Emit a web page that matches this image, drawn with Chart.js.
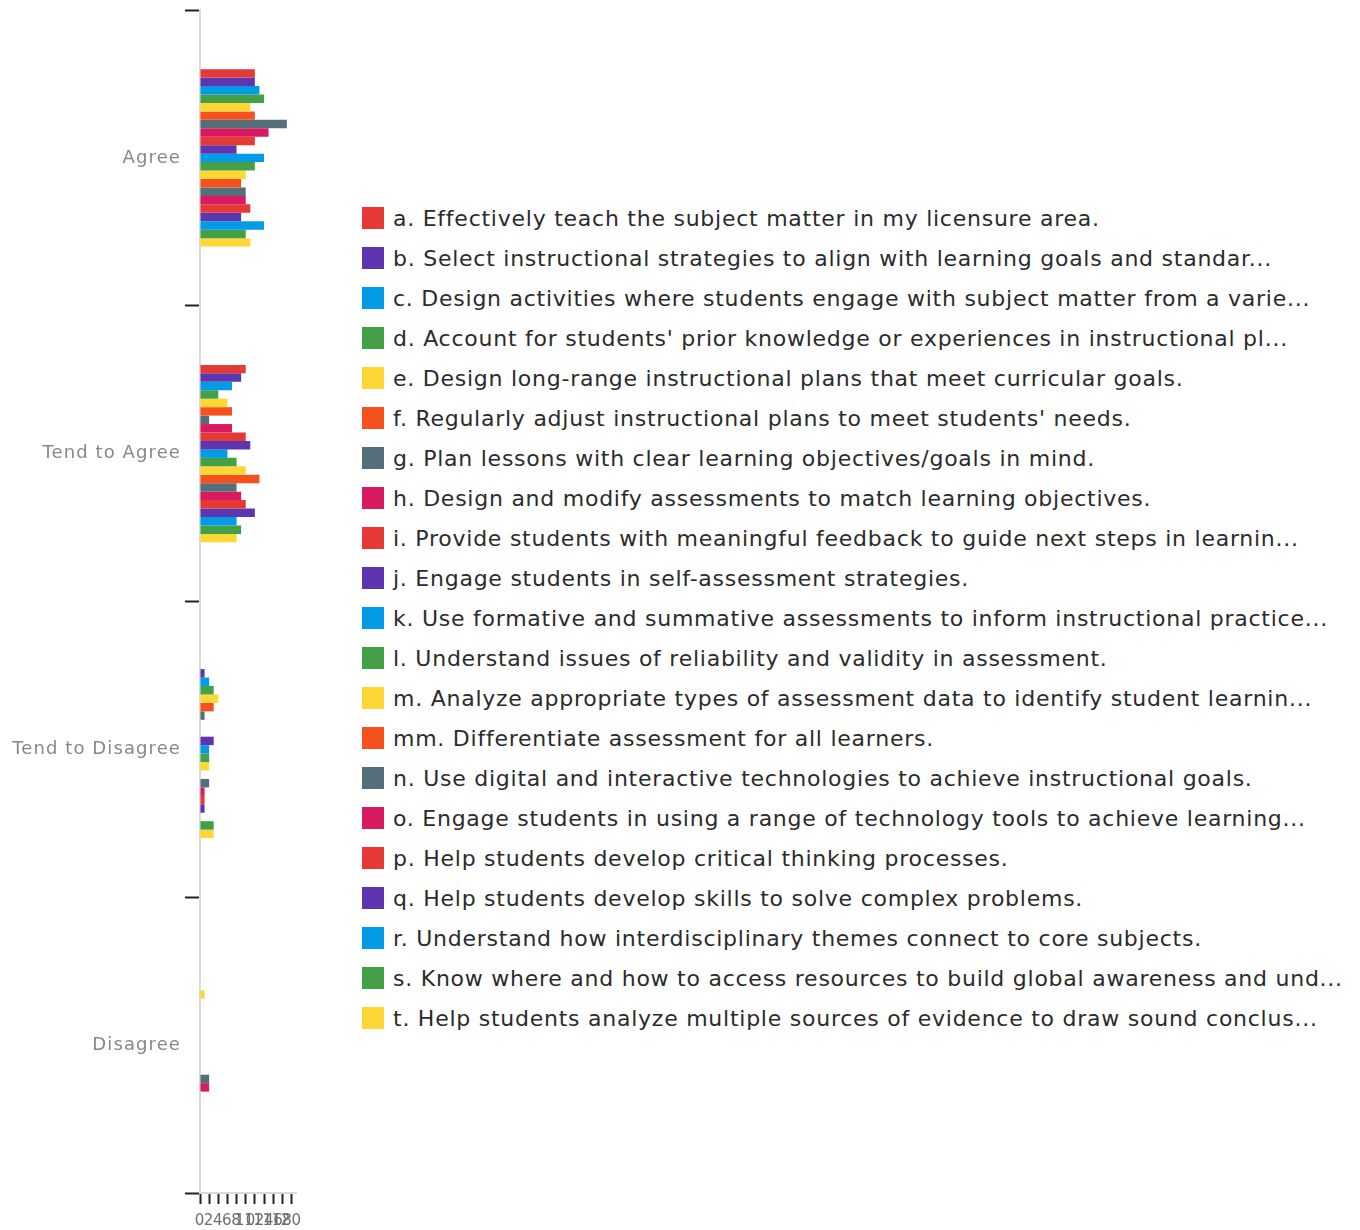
<!DOCTYPE html>
<html>
<head>
<meta charset="utf-8">
<script src="https://cdn.jsdelivr.net/npm/chart.js@4/dist/chart.umd.min.js"></script>
<style>
	body{margin:0;background:#fff;}
	#wrap{position:absolute;left:0;top:0;width:340px;height:1230px;}
	#legend{position:absolute;left:362px;top:199px;margin:0;padding:0;list-style:none;
		font-family:"DejaVu Sans",sans-serif;font-size:22px;letter-spacing:0.75px;color:#2b2b2b;}
	#legend li{height:40px;line-height:40px;white-space:nowrap;}
	#legend span{display:inline-block;width:22px;height:22px;vertical-align:middle;margin-right:9px;position:relative;top:-2px;}
</style>
</head>
<body>
<div id="wrap"><canvas id="myChart"></canvas></div>
<ul id="legend"></ul>
<script>
// answer categories (y axis)
let categories = ["Agree", "Tend to Agree", "Tend to Disagree", "Disagree"];

// survey items, as shown in the legend
let items = [
	"a. Effectively teach the subject matter in my licensure area.",
	"b. Select instructional strategies to align with learning goals and standar...",
	"c. Design activities where students engage with subject matter from a varie...",
	"d. Account for students' prior knowledge or experiences in instructional pl...",
	"e. Design long-range instructional plans that meet curricular goals.",
	"f. Regularly adjust instructional plans to meet students' needs.",
	"g. Plan lessons with clear learning objectives/goals in mind.",
	"h. Design and modify assessments to match learning objectives.",
	"i. Provide students with meaningful feedback to guide next steps in learnin...",
	"j. Engage students in self-assessment strategies.",
	"k. Use formative and summative assessments to inform instructional practice...",
	"l. Understand issues of reliability and validity in assessment.",
	"m. Analyze appropriate types of assessment data to identify student learnin...",
	"mm. Differentiate assessment for all learners.",
	"n. Use digital and interactive technologies to achieve instructional goals.",
	"o. Engage students in using a range of technology tools to achieve learning...",
	"p. Help students develop critical thinking processes.",
	"q. Help students develop skills to solve complex problems.",
	"r. Understand how interdisciplinary themes connect to core subjects.",
	"s. Know where and how to access resources to build global awareness and und...",
	"t. Help students analyze multiple sources of evidence to draw sound conclus..."
];

// counts per answer, one entry per item (a .. t)
let agree          = [12, 12, 13, 14, 11, 12, 19, 15, 12, 8, 14, 12, 10, 9, 10, 10, 11, 9, 14, 10, 11];
let tendToAgree    = [10, 9, 7, 4, 6, 7, 2, 7, 10, 11, 6, 8, 10, 13, 8, 9, 10, 12, 8, 9, 8];
let tendToDisagree = [0, 1, 2, 3, 4, 3, 1, 0, 0, 3, 2, 2, 2, 0, 2, 1, 1, 1, 0, 3, 3];
let disagree       = [0, 0, 0, 0, 1, 0, 0, 0, 0, 0, 0, 0, 0, 0, 2, 2, 0, 0, 0, 0, 0];

// x axis tick labels
let xTicks = [0, 2, 4, 6, 8, 10, 12, 14, 16, 18, 20];

let palette = ["#e53935", "#5e35b1", "#039be5", "#43a047", "#fdd835", "#f4511e", "#546e7a", "#d81b60"];

let datasets = [];
for(let i in items){
	datasets.push({
		label: items[i],
		data: [agree[i], tendToAgree[i], tendToDisagree[i], disagree[i]],
		backgroundColor: palette[i % palette.length],
		borderWidth: 0,
		categoryPercentage: 0.6,
		barPercentage: 1.0
	});
}

// html legend, filled from the chart's own legend items
let htmlLegend = {
	id: "htmlLegend",
	afterUpdate: function(chart){
		let ul = document.getElementById("legend");
		ul.innerHTML = "";
		let legendItems = Chart.defaults.plugins.legend.labels.generateLabels(chart);
		legendItems.forEach(function(item){
			let li = document.createElement("li");
			let box = document.createElement("span");
			box.style.background = item.fillStyle;
			li.appendChild(box);
			li.appendChild(document.createTextNode(item.text));
			ul.appendChild(li);
		});
	}
};

// wider axis text, like the original font
let spacing = {
	id: "spacing",
	beforeDraw: function(chart){
		chart.ctx.letterSpacing = "1.1px";
	}
};

Chart.defaults.font.family = "'DejaVu Sans', sans-serif";

let ctx = document.getElementById("myChart");
let chart = new Chart(ctx, {
	type: "bar",
	data: {
		labels: categories,
		datasets: datasets
	},
	options: {
		indexAxis: "y",
		animation: false,
		responsive: true,
		maintainAspectRatio: false,
		layout: {padding: {top: 10, bottom: 1, left: 0, right: 44}},
		plugins: {
			legend: {display: false},
			tooltip: {enabled: false}
		},
		scales: {
			x: {
				min: 0,
				max: 21,
				afterBuildTicks: function(scale){
					scale.ticks = xTicks.map(function(v){ return {value: v}; });
				},
				afterFit: function(scale){
					scale.height = 36;
					scale.paddingTop = 0;
					scale.paddingBottom = 0;
				},
				grid: {drawOnChartArea: false, tickLength: 11, tickWidth: 2, tickColor: "#222"},
				border: {color: "#dadada", width: 2},
				ticks: {autoSkip: false, maxRotation: 0, minRotation: 0, padding: 8,
					color: "#6f6f6f", font: {size: 15}}
			},
			y: {
				afterFit: function(scale){
					scale.width = 200;
					scale.paddingTop = 0;
					scale.paddingBottom = 0;
				},
				grid: {drawOnChartArea: false, tickLength: 15, tickWidth: 2, tickColor: "#222"},
				border: {color: "#dadada", width: 2},
				ticks: {padding: 4, color: "#888", font: {size: 18}}
			}
		}
	},
	plugins: [htmlLegend, spacing]
});
</script>
</body>
</html>
